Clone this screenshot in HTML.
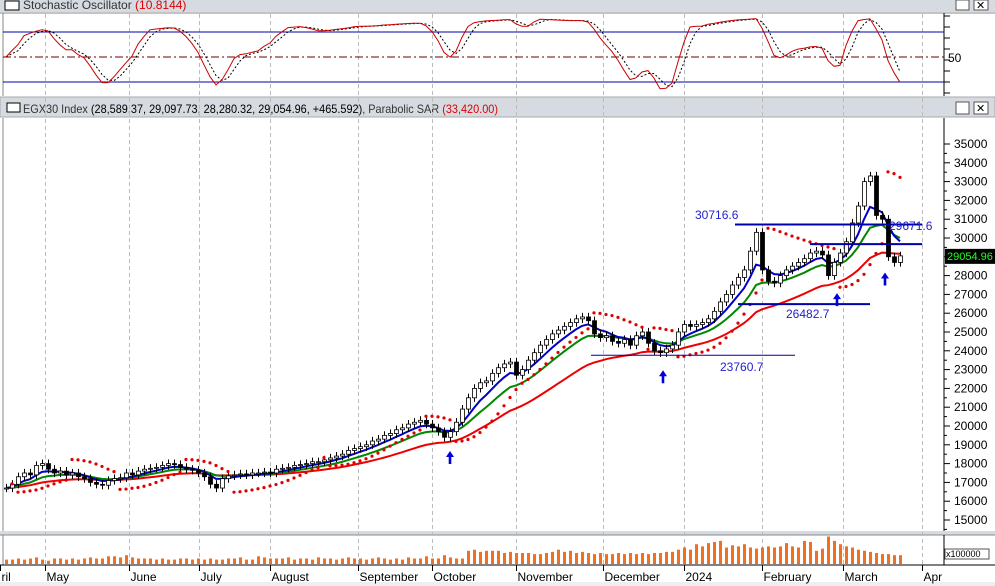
<!DOCTYPE html>
<html><head><meta charset="utf-8"><style>
body{margin:0;background:#fff;font-family:"Liberation Sans",sans-serif}
svg{display:block}
text{font-family:"Liberation Sans",sans-serif}
</style></head><body>
<svg id="c" width="995" height="586" xmlns="http://www.w3.org/2000/svg">
<rect x="0" y="0" width="995" height="586" fill="#fff"/>
<rect x="0" y="0" width="995" height="12" fill="#d6dbe2"/>
<rect x="5" y="1" width="14" height="9" fill="#fff" stroke="#000"/>
<text x="23" y="9" font-size="12" fill="#333">Stochastic Oscillator <tspan fill="#d00">(10.8144)</tspan></text>
<rect x="956" y="0" width="13" height="10" fill="#fff" stroke="#555"/>
<rect x="974" y="0" width="14" height="10" fill="#fff" stroke="#555"/>
<text x="976" y="9" font-size="11">✕</text>
<line x1="0" y1="13" x2="995" y2="13" fill="none" stroke="#888"/>
<line x1="3" y1="13" x2="3" y2="96" stroke="#888"/>
<line x1="944" y1="13" x2="944" y2="96" stroke="#000"/>
<rect x="0" y="97" width="995" height="20" fill="#d6dbe2" stroke="#aaa"/>
<rect x="7" y="103" width="13" height="9" fill="#fff" stroke="#000"/>
<text x="23" y="113" font-size="12" fill="#333" textLength="475" lengthAdjust="spacingAndGlyphs">EGX30 Index <tspan fill="#000">(28,589.37, 29,097.73, 28,280.32, 29,054.96, +465.592)</tspan>, Parabolic SAR <tspan fill="#d00">(33,420.00)</tspan></text>
<rect x="956" y="102" width="13" height="12" fill="#fff" stroke="#555"/>
<rect x="974" y="102" width="14" height="12" fill="#fff" stroke="#555"/>
<text x="976" y="112" font-size="11">✕</text>
<line x1="3" y1="118" x2="3" y2="531" stroke="#888"/>
<line x1="944" y1="118" x2="944" y2="531" stroke="#000"/>
<rect x="0" y="531" width="995" height="4" fill="#d6dbe2"/>
<line x1="0" y1="535" x2="995" y2="535" stroke="#888"/>
<line x1="3" y1="535" x2="3" y2="565" stroke="#888"/>
<line x1="944" y1="535" x2="944" y2="565" stroke="#000"/>
<line x1="0" y1="565" x2="995" y2="565" stroke="#000"/>
<text x="946" y="557" font-size="9">x100000</text>
<rect x="945" y="549" width="44" height="10" fill="none" stroke="#555"/>
<rect x="0" y="582" width="995" height="4" fill="#eee"/>
<g id="g"></g>
</svg>
<script>
const months=["ril","May","June","July","August","September","October","November","December","2024","February","March","Apr"];
const monthBar=[-1,6.5,20.5,32.2,44,58.7,71,85,99.5,113,126,139.5,152.7];
const closes=[16700,16900,17300,17500,17400,17900,18000,17700,17500,17600,17400,17500,17300,17200,17000,16900,16850,17100,17200,17250,17500,17400,17600,17700,17750,17800,17900,18000,17950,17800,17700,17650,17500,17300,16900,16700,17200,17350,17400,17450,17400,17500,17500,17550,17500,17700,17750,17800,17900,17950,18000,18100,18100,18200,18300,18400,18500,18700,18800,18900,19000,19200,19300,19500,19600,19800,19900,20100,20200,20300,20100,19900,19700,19400,19700,20200,20900,21500,22000,22300,22400,22800,23100,23300,23400,22700,23000,23500,23900,24300,24600,24900,25100,25300,25500,25700,25800,25600,24900,24700,24800,24500,24400,24600,24300,24800,25000,24400,24000,23900,24100,24300,25000,25400,25300,25400,25500,25700,26100,26600,27000,27500,27900,28300,29300,30300,28300,27700,27600,28000,28300,28500,28700,28900,29200,29300,29100,28000,28700,29200,29800,30800,31700,33000,33300,31200,31000,29000,28700,29050];
const volumes=[4,4,5,4,5,6,4,3,5,5,4,5,4,5,6,5,5,7,7,6,8,6,5,5,5,4,5,4,4,5,5,4,5,4,5,4,4,5,5,6,4,4,7,6,5,5,5,6,4,5,5,4,6,5,5,4,5,6,5,5,4,5,6,5,4,5,4,6,5,5,7,5,5,8,6,5,5,12,13,11,12,12,12,10,11,10,10,10,9,9,10,11,13,11,12,10,11,10,9,10,9,9,10,9,10,9,10,9,10,10,11,11,13,15,13,18,16,19,20,21,15,17,16,18,15,14,15,16,15,16,19,16,15,21,20,12,14,25,21,18,16,15,13,12,11,10,9,9,8,8];
const yTicks=[15000,16000,17000,18000,19000,20000,21000,22000,23000,24000,25000,26000,27000,28000,29000,30000,31000,32000,33000,34000,35000];
const levels=[30716.6,29671.6,26482.7,23760.7];
const levelBars=[[121.5,152.7],[134,152.7],[122,144],[97.5,131.5]];
const levelLabelPos=[[695,219],[889,230],[786,318],[720,371]];
const arrowBars=[74,109.5,138.5,146.5];
const arrowPrices=[19200,23500,27600,28700];

const X=i=>6+6*i;
const Y=v=>144+(35000-v)*0.0188;
const SY=v=>57-(v-50)*25/30;
const VY=v=>564-v*1.1;
const g=document.getElementById('g');
const NS="http://www.w3.org/2000/svg";
function mk(t,a,p){const e=document.createElementNS(NS,t);for(const k in a)e.setAttribute(k,a[k]);(p||g).appendChild(e);return e;}

monthBar.forEach((b,i)=>{
 const x=Math.round(X(b))+0.5;
 if(i>0){const l=mk('line',{x1:x,y1:14,x2:x,y2:565,stroke:'#bbb','stroke-dasharray':'4,3'});
 
 }
 const t=mk('text',{x:x+1,y:581,'font-size':12,fill:'#000'});t.textContent=months[i];
 
 
 mk('line',{x1:x,y1:565,x2:x,y2:571,stroke:'#000'});
});
[80,20].forEach(v=>{const l=mk('line',{x1:3,y1:SY(v),x2:944,y2:SY(v),stroke:'#00a','stroke-width':1});

});
const mid=mk('line',{x1:3,y1:SY(50),x2:944,y2:SY(50),stroke:'#600','stroke-dasharray':'8,3,2,3'});


const l50=mk('text',{x:948,y:62,'font-size':12});l50.textContent='50';


for(let k=0;k<8;k++)mk('line',{x1:944,y1:16+k*11,x2:950,y2:16+k*11,stroke:'#000'});

const opens=closes.map((c,i)=>i?closes[i-1]:c);
const highs=closes.map((c,i)=>Math.max(c,opens[i])+220);
const lows=closes.map((c,i)=>Math.min(c,opens[i])-220);

yTicks.forEach(v=>{mk('line',{x1:944,y1:Y(v),x2:950,y2:Y(v),stroke:'#000'});
 mk('line',{x1:944,y1:Y(v)+9.4,x2:947,y2:Y(v)+9.4,stroke:'#000'});
 const t=mk('text',{x:954,y:Y(v)+4,'font-size':12});t.textContent=v;
 
 });

function ema(n){let r=[],k=2/(n+1),e=closes[0];closes.forEach(c=>{e=c*k+e*(1-k);r.push(e);});return r;}
function line(vals,col,w,name){const d=vals.map((v,i)=>(i?'L':'M')+X(i)+','+Y(v).toFixed(1)).join('');
 const p=mk('path',{d:d,fill:'none',stroke:col,'stroke-width':w});
 
 }
line(ema(28),'#e00',2,'ma-long-line');
line(ema(12),'#080',2,'ma-mid-line');
line(ema(6),'#00c',2,'ma-short-line');

closes.forEach((c,i)=>{
 const x=X(i),o=opens[i];
 mk('line',{x1:x+0.5,y1:Y(highs[i]),x2:x+0.5,y2:Y(lows[i]),stroke:'#000'});
 const top=Y(Math.max(o,c)),h=Math.max(1,Math.abs(Y(o)-Y(c)));
 const r=mk('rect',{x:x-1.5,y:top,width:4,height:h,fill:c>=o?'#fff':'#000',stroke:'#000','stroke-width':0.8});
 
 
});

(function(){let up=true,af=0.02,ep=highs[0],sar=lows[0];
 for(let i=1;i<closes.length;i++){
  sar=sar+af*(ep-sar);
  if(up){if(lows[i]<sar){up=false;sar=ep;ep=lows[i];af=0.02;}else{if(highs[i]>ep){ep=highs[i];af=Math.min(0.2,af+0.02);}sar=Math.min(sar,lows[i-1]);}}
  else{if(highs[i]>sar){up=true;sar=ep;ep=highs[i];af=0.02;}else{if(lows[i]<ep){ep=lows[i];af=Math.min(0.2,af+0.02);}sar=Math.max(sar,highs[i-1]);}}
  const d=mk('circle',{cx:X(i),cy:Y(sar),r:1.6,fill:'#d00'});
  
  
 }})();

const P=14;let kr=[];
closes.forEach((c,i)=>{const s=Math.max(0,i-P+1);const hh=Math.max(...highs.slice(s,i+1)),ll=Math.min(...lows.slice(s,i+1));kr.push(100*(c-ll)/(hh-ll));});
const sm=(a,n)=>a.map((v,i)=>{const s=a.slice(Math.max(0,i-n+1),i+1);return s.reduce((p,q)=>p+q,0)/s.length;});
const K=sm(kr,3),D=sm(K,3);
const sd=a=>a.map((v,i)=>(i?'L':'M')+X(i)+','+SY(v).toFixed(1)).join('');
const pD=mk('path',{d:sd(D),fill:'none',stroke:'#000','stroke-dasharray':'2,2'});


const pK=mk('path',{d:sd(K),fill:'none',stroke:'#c00'});



levels.forEach((v,i)=>{const l=mk('line',{x1:X(levelBars[i][0]),y1:Y(v),x2:X(levelBars[i][1]),y2:Y(v),stroke:'#00a','stroke-width':i==3?1:2});
 
 
 const t=mk('text',{x:levelLabelPos[i][0],y:levelLabelPos[i][1],'font-size':12,fill:'#22c'});t.textContent=v;
 
 });

arrowBars.forEach((b,i)=>{const x=X(b),y=Y(arrowPrices[i])+18;
 const a=mk('path',{d:`M${x},${y-8}L${x-4},${y-2}L${x-1.3},${y-2}L${x-1.3},${y+5}L${x+1.3},${y+5}L${x+1.3},${y-2}L${x+4},${y-2}Z`,fill:'#00d'});
 
 });

volumes.forEach((v,i)=>{const r=mk('rect',{x:X(i)-1,y:VY(v),width:3,height:564-VY(v),fill:'#f07020'});
 
 });

const lp=Y(closes[closes.length-1]);
mk('rect',{x:945,y:lp-7,width:50,height:15,fill:'#000'});
const lt=mk('text',{x:947,y:lp+4,'font-size':11,fill:'#2f2'});lt.textContent='29054.96';


</script>
</body></html>
